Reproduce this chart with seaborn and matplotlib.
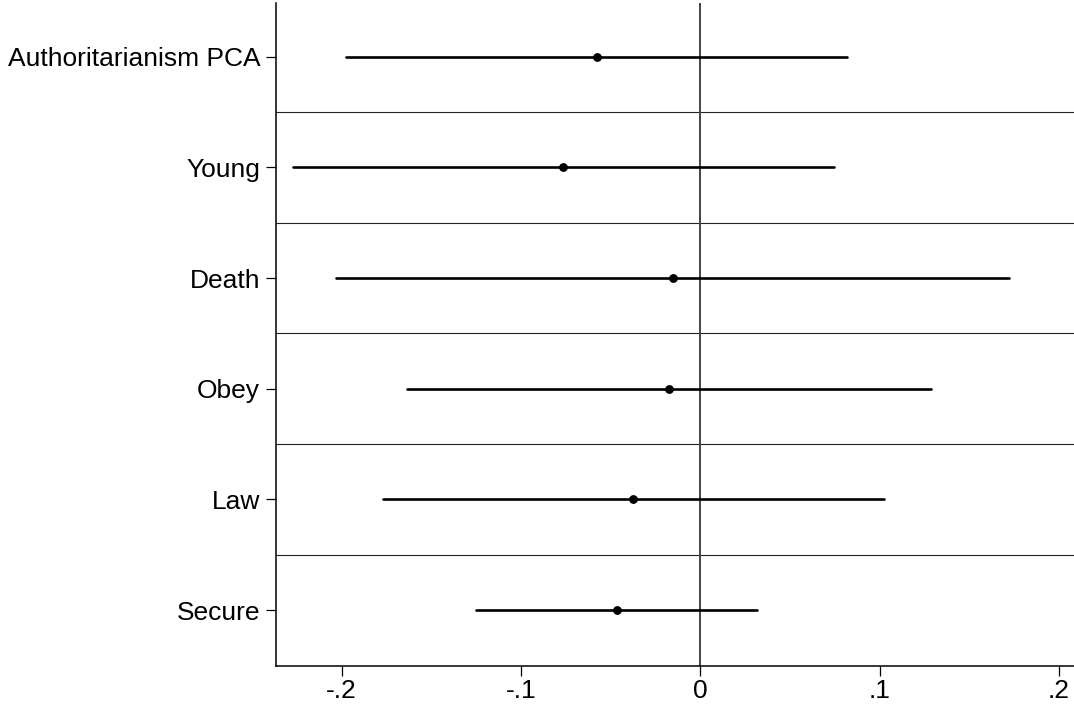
import pandas as pd
import numpy as np
import matplotlib
matplotlib.use("Agg")
import matplotlib.pyplot as plt
import seaborn as sns

# ------------------------------
# Coefficients and 95% CIs
# ------------------------------
terms = ["Authoritarianism PCA", "Young", "Death", "Obey", "Law", "Secure"]
coef = [-0.0577, -0.0766, -0.0152, -0.0175, -0.0376, -0.0465]
ci_low = [-0.1976, -0.2273, -0.2032, -0.1637, -0.1771, -0.1251]
ci_high = [0.0818, 0.0747, 0.1723, 0.1283, 0.1021, 0.0318]
xticks = [-0.2, -0.1, 0, 0.1, 0.2]
xtick_labels = ["-.2", "-.1", "0", ".1", ".2"]

# long format: median of (lo, coef, hi) = coef, full interval = CI
df = pd.DataFrame({
    "term": np.repeat(terms, 3),
    "value": np.ravel(np.column_stack([ci_low, coef, ci_high])),
})

# ------------------------------
# Style
# ------------------------------
sns.set_style("ticks")
plt.rcParams["font.family"] = ["Liberation Sans", "DejaVu Sans"]

fig = plt.figure(figsize=(10.74, 7.08), dpi=100)
ax = fig.add_axes([0.2567, 0.0593, 0.7433, 0.937])

sns.pointplot(data=df, x="value", y="term", order=terms,
              estimator="median", errorbar=("pi", 100),
              color="black", linestyle="none", markers="o",
              markersize=4.3, err_kws={"linewidth": 1.9}, ax=ax)

# row separators and zero line
for i in range(len(terms) - 1):
    ax.axhline(i + 0.5, color="#222222", lw=0.8, zorder=0)
ax.axvline(0, color="#444444", lw=1.4, zorder=0)

ax.set_xlim(-0.2368, 0.2083)
ax.set_ylim(5.506, -0.49)
ax.set_xticks(xticks)
ax.set_xticklabels(xtick_labels)
ax.set_xlabel("")
ax.set_ylabel("")

sns.despine(ax=ax, top=True, right=True)
for s in ["left", "bottom"]:
    ax.spines[s].set_linewidth(1.1)
    ax.spines[s].set_color("black")
ax.tick_params(axis="both", labelsize=19, length=7.2, width=0.9,
               color="black", labelcolor="black")
ax.tick_params(axis="x", pad=2)
ax.tick_params(axis="y", pad=4)

plt.savefig("out.png", dpi=100)
